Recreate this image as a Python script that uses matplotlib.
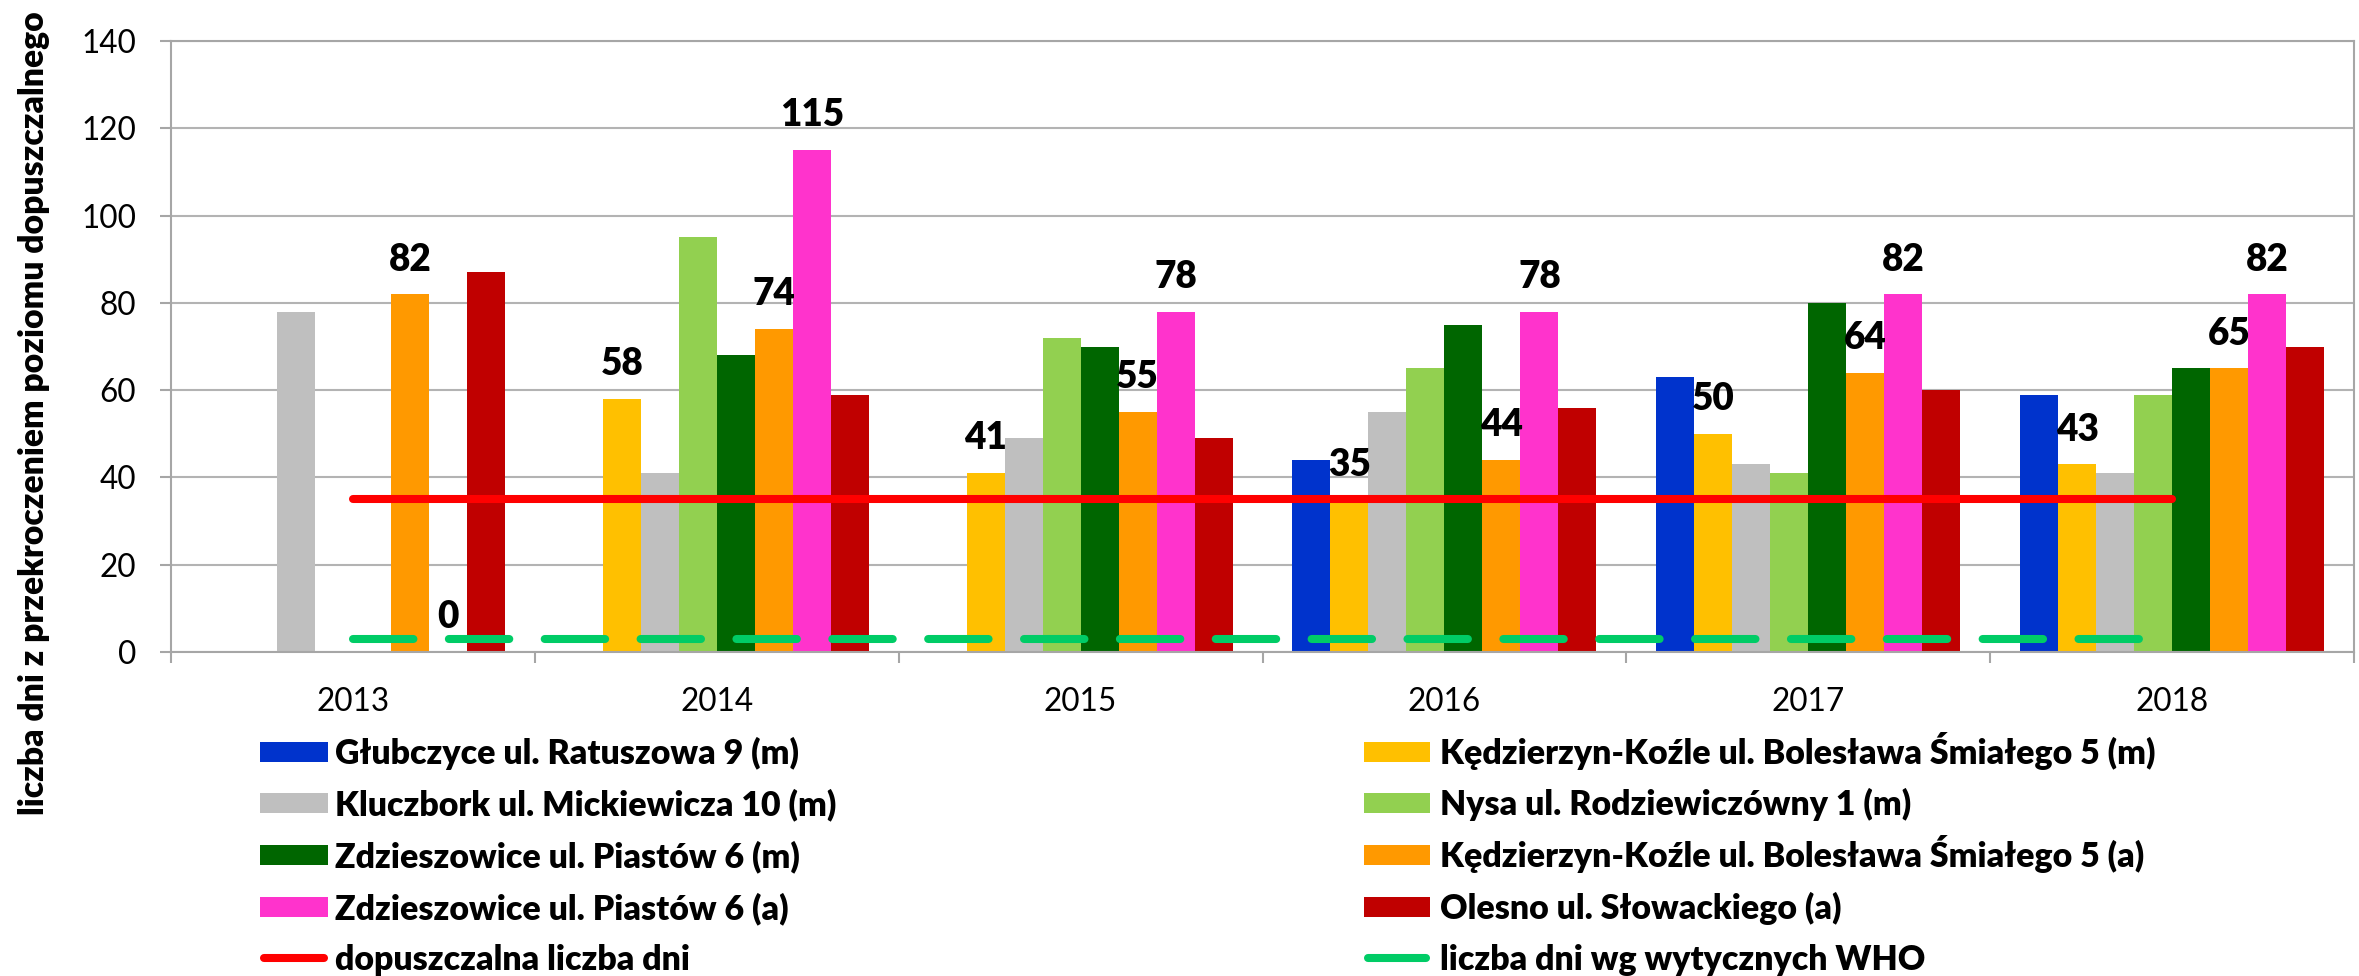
import numpy as np
import matplotlib
matplotlib.use("Agg")
import matplotlib.pyplot as plt
from matplotlib.patches import Rectangle
from matplotlib.lines import Line2D

plt.rcParams['font.family'] = ['Lato', 'DejaVu Sans']

years = ['2013', '2014', '2015', '2016', '2017', '2018']
series_names = [
    'Głubczyce ul. Ratuszowa 9 (m)',
    'Kędzierzyn-Koźle ul. Bolesława Śmiałego 5 (m)',
    'Kluczbork ul. Mickiewicza 10 (m)',
    'Nysa ul. Rodziewiczówny 1 (m)',
    'Zdzieszowice ul. Piastów 6 (m)',
    'Kędzierzyn-Koźle ul. Bolesława Śmiałego 5 (a)',
    'Zdzieszowice ul. Piastów 6 (a)',
    'Olesno ul. Słowackiego (a)',
]
nan = np.nan
glubczyce = [nan, nan, nan, 44, 63, 59]
kk_m = [nan, 58, 41, 35, 50, 43]
kluczbork = [78, 41, 49, 55, 43, 41]
nysa = [nan, 95, 72, 65, 41, 59]
zdz_m = [nan, 68, 70, 75, 80, 65]
kk_a = [82, 74, 55, 44, 64, 65]
zdz_a = [0, 115, 78, 78, 82, 82]
olesno = [87, 59, 49, 56, 60, 70]
limit_days = [35, 35, 35, 35, 35, 35]
who_days = [3, 3, 3, 3, 3, 3]
line_names = ['dopuszczalna liczba dni', 'liczba dni wg wytycznych WHO']
ylabel = 'liczba dni z przekroczeniem poziomu dopuszczalnego'

series = [glubczyce, kk_m, kluczbork, nysa, zdz_m, kk_a, zdz_a, olesno]
colors = ['#0033CC', '#FFC000', '#BFBFBF', '#92D050', '#006600', '#FF9900', '#FF33CC', '#C00000']
red, green = '#FF0000', '#00CC66'
labeled = [1, 5, 6]
BOLD = 'heavy'

W, H = 2359, 976
fig = plt.figure(figsize=(W / 100, H / 100), dpi=100)
renderer = fig.canvas.get_renderer()


def fitted_size(s, target_px, base=20, weight='normal'):
    t = fig.text(0, 0, s, fontsize=base, fontweight=weight)
    w = t.get_window_extent(renderer).width
    t.remove()
    return base * target_px / w


tick_fs = fitted_size('2013', 73)
val_fs = fitted_size('115', 64, weight=BOLD)
leg_fs = fitted_size(series_names[1], 714, weight=BOLD)
ylab_fs = fitted_size(ylabel, 805, weight=BOLD)

ax = fig.add_axes([171 / W, 1 - 652 / H, (2354 - 171) / W, 611 / H])

x = np.arange(len(years))
bw = 38 / 363.8
for i, (vals, c) in enumerate(zip(series, colors)):
    xi = x + (i - 3.5) * bw
    v = np.array(vals, dtype=float)
    ax.bar(xi, v, width=bw, color=c, zorder=2, linewidth=0)
    if i in labeled:
        for xx, vv in zip(xi, v):
            if not np.isnan(vv):
                ax.annotate(f'{int(vv)}', (xx, vv), xytext=(0, 17), textcoords='offset points',
                            ha='center', va='baseline', fontsize=val_fs, fontweight=BOLD, zorder=5)

ax.plot(x, limit_days, color=red, lw=5.8, solid_capstyle='round', zorder=4)
ax.plot(x, who_days, color=green, lw=5.8, dashes=(7.5, 4.4), dash_capstyle='round', zorder=4)

ax.set_xlim(-0.5, 5.5)
ax.set_ylim(0, 140)
ax.set_yticks(np.arange(0, 141, 20))
ax.set_xticks(x)
ax.set_xticklabels(years)
ax.set_xticks(np.arange(-0.5, 6, 1), minor=True)
ax.tick_params(axis='x', which='major', length=0, pad=25, labelsize=tick_fs)
ax.tick_params(axis='x', which='minor', length=8, width=1.5, color='#A6A6A6')
ax.tick_params(axis='y', length=8, width=1.5, color='#A6A6A6', pad=17, labelsize=tick_fs)
ax.yaxis.grid(True, color='#B3B3B3', lw=1.5, zorder=0)
ax.set_axisbelow(True)
for s in ax.spines.values():
    s.set_color('#A6A6A6')
    s.set_linewidth(1.5)

fig.text(34 / W, 1 - 413 / H, ylabel, rotation=90, ha='center', va='center',
         fontsize=ylab_fs, fontweight=BOLD)

# legend drawn in figure pixel space (two columns, row-major order)
lax = fig.add_axes([0, 0, 1, 1], zorder=-1)
lax.set_xlim(0, W)
lax.set_ylim(H, 0)
lax.axis('off')
row_y = [752, 803, 855, 907, 958]
col_x = [(260, 328, 335), (1364, 1430, 1440)]
entries = list(zip(series_names, colors)) + [(line_names[0], red), (line_names[1], green)]
cap = 0.7165 * leg_fs * 100 / 72
for k, (name, c) in enumerate(entries):
    col = k % 2
    row = k // 2
    x0, x1, xt = col_x[col]
    yc = row_y[row]
    if k < 8:
        lax.add_patch(Rectangle((x0, yc - 10), x1 - x0, 20, color=c, lw=0))
    else:
        lax.add_line(Line2D([x0 + 4, x1 - 4], [yc, yc], color=c, lw=5.8, solid_capstyle='round'))
    lax.text(xt, yc + cap / 2, name, ha='left', va='baseline', fontsize=leg_fs, fontweight=BOLD)

fig.savefig('out.png', dpi=100)
